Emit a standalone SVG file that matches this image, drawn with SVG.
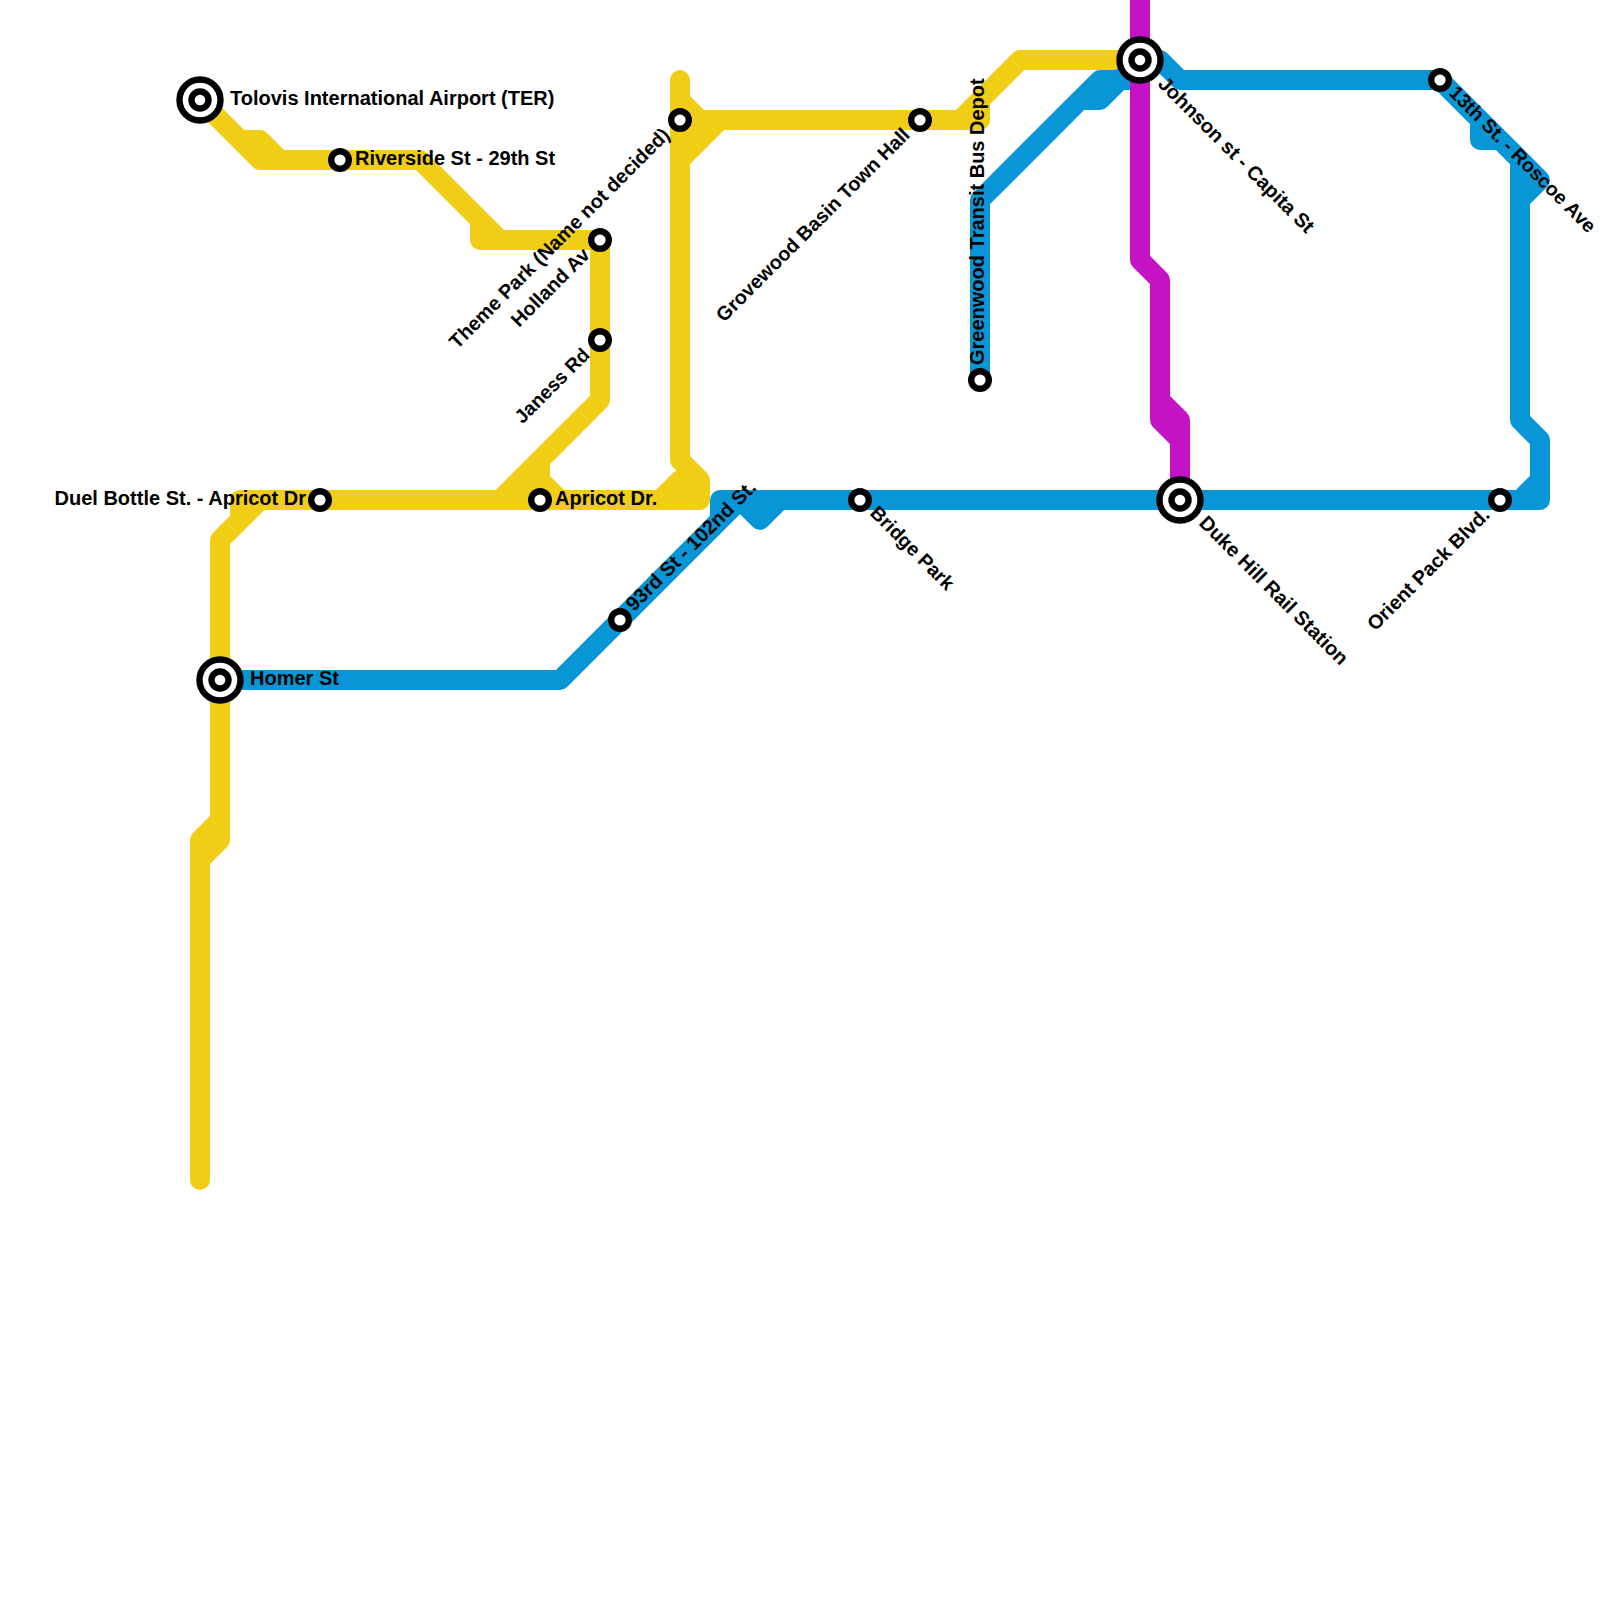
<svg xmlns="http://www.w3.org/2000/svg" width="1600" height="1600" viewBox="0 0 1600 1600">
<style>
.l{fill:none;stroke-width:20;stroke-linejoin:round;stroke-linecap:round}
.b{stroke:#0896d7}.y{stroke:#f0ce15}.m{stroke:#c413c4}
.s{fill:#fff;stroke:#000;stroke-width:6.4}
text{font-family:"Liberation Sans",Arial,sans-serif;font-weight:700;font-size:20px;fill:#000}
.e{text-anchor:end}
</style>
<defs>
<g id="st"><circle class="s" r="8.8"/></g>
<g id="ix"><circle class="s" r="20.5"/><circle class="s" r="8.5"/></g>
</defs>
<rect width="1600" height="1600" fill="#fff"/>
<g id="connectors">
<path class="l y" d="M200 100L260 160H420L500 240H600V400L500 500M240 140H260L280 160M480 220V240H500M240 520V500H700V480L680 460V80M220 540L260 500M220 540V840L200 860V1180M220 820L200 840V860M540 460V480L560 500M520 500L540 480M660 500L680 480H700M680 100L700 120H980V100M680 160L720 120M680 130H700M960 120L1020 60H1140"/>
<path class="l b" d="M220 680H560L740 500M720 520V500H1540V440L1520 420V160L1500 140H1480V120M740 500L760 520L780 500M1540 480L1520 500M1520 200L1540 180L1440 80H1180L1160 60H1140M980 380V200L1100 80H1140M1080 100H1100L1140 60"/>
<path class="l m" d="M1140 -20V260L1160 280V420L1180 440V500M1160 400L1180 420V440"/>
</g>
<g id="n-tolovis"><use href="#ix" x="200" y="100"/><text x="230" y="105">Tolovis International Airport (TER)</text></g>
<g id="n-riverside"><use href="#st" x="340" y="160"/><text x="355" y="165">Riverside St - 29th St</text></g>
<g id="n-holland"><use href="#st" x="600" y="240"/><text class="e" style="font-size:19.8px" transform="translate(591 256) rotate(-45)">Holland Av</text></g>
<g id="n-janess"><use href="#st" x="600" y="340"/><text class="e" style="font-size:19.4px" transform="translate(591 356) rotate(-45)">Janess Rd</text></g>
<g id="n-themepark"><use href="#st" x="680" y="120"/><text class="e" style="font-size:19.85px" transform="translate(671 136) rotate(-45)">Theme Park (Name not decided)</text></g>
<g id="n-grovewood"><use href="#st" x="920" y="120"/><text class="e" style="font-size:19.7px" transform="translate(911 136) rotate(-45)">Grovewood Basin Town Hall</text></g>
<g id="n-greenwood"><use href="#st" x="980" y="380"/><text transform="translate(984 365) rotate(-90)">Greenwood Transit Bus Depot</text></g>
<g id="n-johnson"><use href="#ix" x="1140" y="60"/><text transform="translate(1157 85) rotate(45)">Johnson st - Capita St</text></g>
<g id="n-13th"><use href="#st" x="1440" y="80"/><text style="font-size:19.5px" transform="translate(1448 94) rotate(45)">13th St. - Roscoe Ave</text></g>
<g id="n-duel"><use href="#st" x="320" y="500"/><text class="e" x="306" y="505">Duel Bottle St. - Apricot Dr</text></g>
<g id="n-apricot"><use href="#st" x="540" y="500"/><text x="555" y="505">Apricot Dr.</text></g>
<g id="n-homer"><use href="#ix" x="220" y="680"/><text x="250" y="685">Homer St</text></g>
<g id="n-93rd"><use href="#st" x="620" y="620"/><text transform="translate(634 612) rotate(-45)">93rd St - 102nd St.</text></g>
<g id="n-bridge"><use href="#st" x="860" y="500"/><text style="font-size:19.5px" transform="translate(869 514) rotate(45)">Bridge Park</text></g>
<g id="n-duke"><use href="#ix" x="1180" y="500"/><text transform="translate(1198 524) rotate(45)">Duke Hill Rail Station</text></g>
<g id="n-orient"><use href="#st" x="1500" y="500"/><text class="e" style="font-size:19.8px" transform="translate(1491 516) rotate(-45)">Orient Pack Blvd.</text></g>
</svg>
